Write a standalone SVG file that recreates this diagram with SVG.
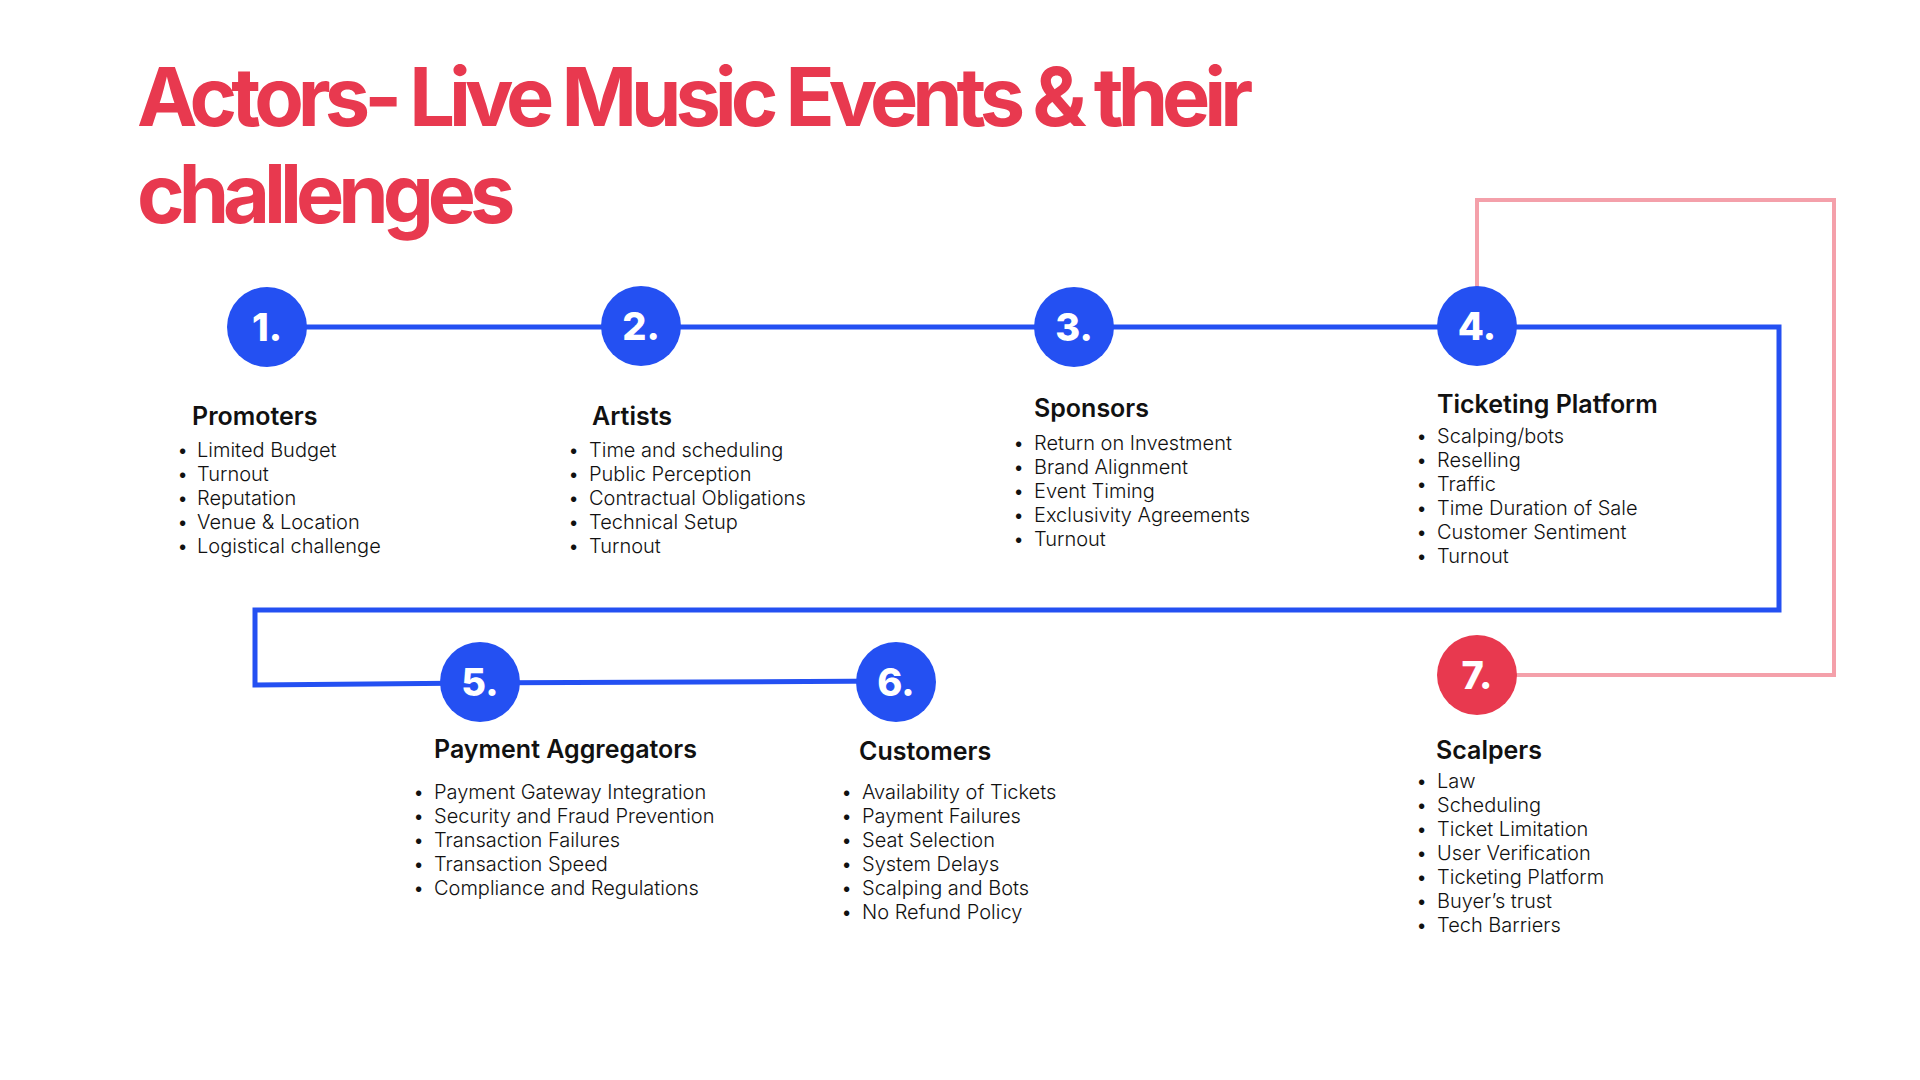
<svg xmlns="http://www.w3.org/2000/svg" width="1920" height="1080" viewBox="0 0 1920 1080">
<style>
.title{font-family:Inter,"Liberation Sans",sans-serif;font-size:81px;font-weight:700;fill:#E8394F;letter-spacing:-6px}
.num{font-family:Inter,"Liberation Sans",sans-serif;font-size:38px;font-weight:800;fill:#fff;text-anchor:middle}
.hd{font-family:Inter,"Liberation Sans",sans-serif;font-size:25px;font-weight:600;fill:#111}
.it{font-family:Inter,"Liberation Sans",sans-serif;font-size:20px;font-weight:300;fill:#111}
.blue{fill:#2450F2}
.red{fill:#E8394F}
</style>
<rect width="1920" height="1080" fill="#fff"/>
<text class="title" x="137" y="126">Actors- Live Music Events &amp; their</text>
<text class="title" x="137" y="223">challenges</text>
<g id="connectors" fill="none" stroke-linejoin="miter">
<path d="M1477,326 L1477,200 L1834,200 L1834,675 L1477,675" stroke="#F4A0AA" stroke-width="4"/>
<path d="M267,327 L1779,327 L1779,610 L255,610 L255,685 L480,683 L896,681" stroke="#2450F2" stroke-width="5"/>
</g>
<g id="node1">
<circle class="blue" cx="267" cy="327" r="40"/>
<text class="num" x="267" y="341">1.</text>
<text class="hd" x="192" y="425">Promoters</text>
<g class="it">
<text x="177" y="457">•</text><text x="197" y="457">Limited Budget</text>
<text x="177" y="481">•</text><text x="197" y="481">Turnout</text>
<text x="177" y="505">•</text><text x="197" y="505">Reputation</text>
<text x="177" y="529">•</text><text x="197" y="529">Venue &amp; Location</text>
<text x="177" y="553">•</text><text x="197" y="553">Logistical challenge</text>
</g>
</g>
<g id="node2">
<circle class="blue" cx="641" cy="326" r="40"/>
<text class="num" x="641" y="340">2.</text>
<text class="hd" x="592" y="425">Artists</text>
<g class="it">
<text x="568" y="457">•</text><text x="589" y="457">Time and scheduling</text>
<text x="568" y="481">•</text><text x="589" y="481">Public Perception</text>
<text x="568" y="505">•</text><text x="589" y="505">Contractual Obligations</text>
<text x="568" y="529">•</text><text x="589" y="529">Technical Setup</text>
<text x="568" y="553">•</text><text x="589" y="553">Turnout</text>
</g>
</g>
<g id="node3">
<circle class="blue" cx="1074" cy="327" r="40"/>
<text class="num" x="1074" y="341">3.</text>
<text class="hd" x="1034" y="417">Sponsors</text>
<g class="it">
<text x="1013" y="450">•</text><text x="1034" y="450">Return on Investment</text>
<text x="1013" y="474">•</text><text x="1034" y="474">Brand Alignment</text>
<text x="1013" y="498">•</text><text x="1034" y="498">Event Timing</text>
<text x="1013" y="522">•</text><text x="1034" y="522">Exclusivity Agreements</text>
<text x="1013" y="546">•</text><text x="1034" y="546">Turnout</text>
</g>
</g>
<g id="node4">
<circle class="blue" cx="1477" cy="326" r="40"/>
<text class="num" x="1477" y="340">4.</text>
<text class="hd" x="1437" y="413">Ticketing Platform</text>
<g class="it">
<text x="1416" y="443">•</text><text x="1437" y="443">Scalping/bots</text>
<text x="1416" y="467">•</text><text x="1437" y="467">Reselling</text>
<text x="1416" y="491">•</text><text x="1437" y="491">Traffic</text>
<text x="1416" y="515">•</text><text x="1437" y="515">Time Duration of Sale</text>
<text x="1416" y="539">•</text><text x="1437" y="539">Customer Sentiment</text>
<text x="1416" y="563">•</text><text x="1437" y="563">Turnout</text>
</g>
</g>
<g id="node5">
<circle class="blue" cx="480" cy="682" r="40"/>
<text class="num" x="480" y="696">5.</text>
<text class="hd" x="434" y="758">Payment Aggregators</text>
<g class="it">
<text x="413" y="799">•</text><text x="434" y="799">Payment Gateway Integration</text>
<text x="413" y="823">•</text><text x="434" y="823">Security and Fraud Prevention</text>
<text x="413" y="847">•</text><text x="434" y="847">Transaction Failures</text>
<text x="413" y="871">•</text><text x="434" y="871">Transaction Speed</text>
<text x="413" y="895">•</text><text x="434" y="895">Compliance and Regulations</text>
</g>
</g>
<g id="node6">
<circle class="blue" cx="896" cy="682" r="40"/>
<text class="num" x="896" y="696">6.</text>
<text class="hd" x="859" y="760">Customers</text>
<g class="it">
<text x="841" y="799">•</text><text x="862" y="799">Availability of Tickets</text>
<text x="841" y="823">•</text><text x="862" y="823">Payment Failures</text>
<text x="841" y="847">•</text><text x="862" y="847">Seat Selection</text>
<text x="841" y="871">•</text><text x="862" y="871">System Delays</text>
<text x="841" y="895">•</text><text x="862" y="895">Scalping and Bots</text>
<text x="841" y="919">•</text><text x="862" y="919">No Refund Policy</text>
</g>
</g>
<g id="node7">
<circle class="red" cx="1477" cy="675" r="40"/>
<text class="num" x="1477" y="689">7.</text>
<text class="hd" x="1436" y="759">Scalpers</text>
<g class="it">
<text x="1416" y="788">•</text><text x="1437" y="788">Law</text>
<text x="1416" y="812">•</text><text x="1437" y="812">Scheduling</text>
<text x="1416" y="836">•</text><text x="1437" y="836">Ticket Limitation</text>
<text x="1416" y="860">•</text><text x="1437" y="860">User Verification</text>
<text x="1416" y="884">•</text><text x="1437" y="884">Ticketing Platform</text>
<text x="1416" y="908">•</text><text x="1437" y="908">Buyer’s trust</text>
<text x="1416" y="932">•</text><text x="1437" y="932">Tech Barriers</text>
</g>
</g>
</svg>
